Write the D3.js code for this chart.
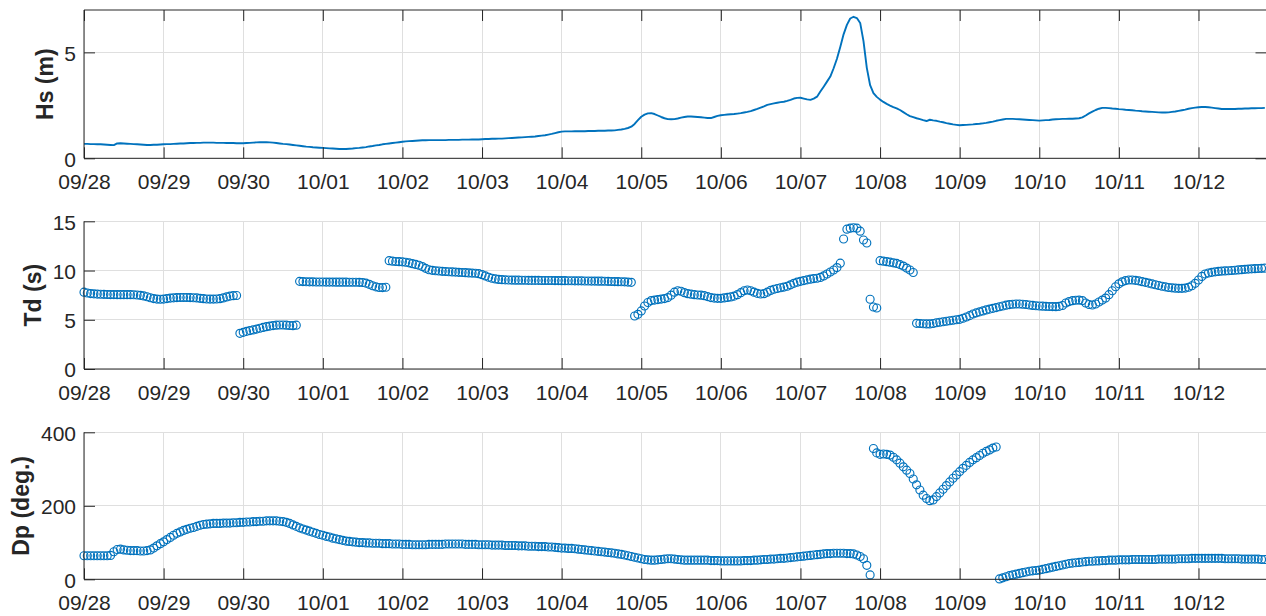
<!DOCTYPE html>
<html>
<head>
<meta charset="utf-8">
<script src="https://cdn.jsdelivr.net/npm/d3@7"></script>
<style>
  body { margin: 0; background: #fff; }
  svg { display: block; }
  text { font-family: "Liberation Sans", Arial, Helvetica, sans-serif; fill: #262626; }
</style>
</head>
<body>
<svg id="chart" width="1266" height="616"></svg>
<script>
// Hourly records starting 09/28 00:00, one row per day (last day ends at 20:00)
const startTime = Date.UTC(2019, 8, 28, 0, 0);

// Significant wave height Hs (m)
const hsValues = [
  [0.68,0.68,0.67,0.67,0.66,0.66,0.65,0.64,0.63,0.62,0.70,0.71,0.70,0.69,0.68,0.67,0.66,0.65,0.64,0.63,0.63,0.64,0.64,0.65],
  [0.66,0.67,0.67,0.68,0.69,0.70,0.70,0.71,0.72,0.72,0.73,0.73,0.74,0.74,0.74,0.74,0.73,0.73,0.73,0.72,0.72,0.72,0.71,0.71],
  [0.71,0.72,0.73,0.74,0.75,0.76,0.76,0.76,0.75,0.74,0.72,0.70,0.68,0.67,0.65,0.63,0.61,0.59,0.57,0.55,0.54,0.52,0.51,0.50],
  [0.49,0.48,0.47,0.46,0.45,0.44,0.44,0.44,0.45,0.46,0.48,0.49,0.51,0.53,0.56,0.58,0.61,0.63,0.66,0.68,0.70,0.72,0.74,0.76],
  [0.78,0.80,0.81,0.82,0.83,0.84,0.85,0.85,0.86,0.86,0.86,0.86,0.86,0.86,0.87,0.87,0.87,0.87,0.88,0.88,0.88,0.89,0.89,0.89],
  [0.90,0.91,0.91,0.92,0.92,0.93,0.93,0.94,0.95,0.96,0.97,0.98,0.99,1.00,1.01,1.02,1.03,1.05,1.07,1.09,1.12,1.15,1.19,1.23],
  [1.26,1.27,1.27,1.27,1.28,1.28,1.28,1.28,1.29,1.29,1.29,1.30,1.30,1.30,1.31,1.31,1.32,1.34,1.36,1.39,1.43,1.49,1.62,1.80],
  [1.96,2.06,2.12,2.13,2.09,2.02,1.95,1.89,1.85,1.84,1.85,1.88,1.92,1.95,1.97,1.97,1.96,1.95,1.94,1.92,1.90,1.90,1.95,2.00],
  [2.03,2.05,2.07,2.08,2.09,2.11,2.13,2.16,2.19,2.23,2.28,2.33,2.39,2.45,2.52,2.56,2.59,2.62,2.65,2.67,2.71,2.76,2.82,2.85],
  [2.86,2.82,2.78,2.76,2.82,2.91,3.15,3.38,3.62,3.86,4.25,4.70,5.25,5.85,6.30,6.60,6.68,6.62,6.39,5.53,4.27,3.45,3.08,2.90],
  [2.77,2.66,2.57,2.49,2.42,2.36,2.28,2.18,2.08,1.99,1.94,1.89,1.85,1.80,1.76,1.82,1.79,1.77,1.73,1.70,1.66,1.63,1.60,1.58],
  [1.56,1.57,1.58,1.59,1.60,1.62,1.63,1.65,1.67,1.70,1.73,1.77,1.80,1.83,1.86,1.86,1.86,1.85,1.84,1.83,1.82,1.81,1.80,1.79],
  [1.78,1.79,1.80,1.81,1.83,1.84,1.85,1.86,1.86,1.87,1.87,1.88,1.89,1.93,2.02,2.12,2.20,2.28,2.34,2.38,2.38,2.37,2.35,2.34],
  [2.32,2.31,2.29,2.28,2.27,2.25,2.24,2.22,2.21,2.20,2.19,2.18,2.17,2.16,2.16,2.17,2.19,2.21,2.24,2.27,2.30,2.34,2.37,2.39],
  [2.41,2.42,2.42,2.41,2.39,2.37,2.35,2.33,2.33,2.33,2.33,2.33,2.34,2.34,2.35,2.35,2.36,2.36,2.37,2.37,2.38]
];

// Peak period Td (s)
const tdValues = [
  [7.80,7.72,7.66,7.63,7.61,7.59,7.58,7.57,7.56,7.56,7.55,7.55,7.55,7.55,7.55,7.54,7.52,7.48,7.42,7.34,7.24,7.15,7.10,7.08],
  [7.10,7.15,7.20,7.23,7.25,7.26,7.26,7.26,7.25,7.24,7.22,7.18,7.14,7.11,7.10,7.10,7.11,7.14,7.22,7.32,7.40,7.45,7.46,3.62],
  [3.72,3.82,3.90,3.97,4.05,4.14,4.22,4.30,4.36,4.41,4.45,4.47,4.47,4.45,4.42,4.40,4.45,8.90,8.88,8.86,8.85,8.85,8.84,8.84],
  [8.84,8.83,8.83,8.83,8.82,8.82,8.82,8.82,8.81,8.81,8.81,8.80,8.78,8.72,8.60,8.45,8.34,8.28,8.27,8.30,11.00,10.95,10.92,10.90],
  [10.88,10.84,10.78,10.70,10.62,10.54,10.40,10.22,10.08,10.02,9.98,9.95,9.92,9.90,9.88,9.86,9.84,9.82,9.80,9.78,9.76,9.74,9.72,9.68],
  [9.58,9.45,9.32,9.22,9.15,9.10,9.07,9.05,9.04,9.03,9.02,9.02,9.01,9.01,9.00,9.00,9.00,9.00,8.99,8.99,8.99,8.99,8.98,8.98],
  [8.97,8.97,8.96,8.96,8.95,8.95,8.95,8.94,8.94,8.93,8.93,8.92,8.92,8.91,8.90,8.89,8.88,8.87,8.86,8.85,8.83,8.80,5.38,5.55],
  [5.90,6.40,6.75,6.95,7.00,7.05,7.10,7.15,7.25,7.50,7.80,7.95,7.90,7.75,7.65,7.60,7.55,7.52,7.50,7.45,7.35,7.25,7.20,7.18],
  [7.18,7.22,7.27,7.32,7.40,7.55,7.75,7.95,8.02,7.95,7.80,7.68,7.62,7.65,7.80,7.98,8.10,8.18,8.25,8.32,8.40,8.55,8.70,8.82],
  [8.90,8.98,9.05,9.12,9.18,9.22,9.30,9.45,9.65,9.85,10.05,10.30,10.75,13.20,14.20,14.30,14.35,14.30,14.00,13.10,12.80,7.08,6.30,6.20],
  [11.00,10.95,10.90,10.85,10.78,10.72,10.60,10.45,10.25,10.05,9.80,4.64,4.62,4.60,4.58,4.58,4.62,4.70,4.75,4.80,4.85,4.90,4.95,5.00],
  [5.04,5.15,5.28,5.42,5.59,5.70,5.80,5.90,6.00,6.08,6.16,6.24,6.32,6.40,6.48,6.54,6.58,6.60,6.60,6.58,6.55,6.50,6.46,6.42],
  [6.40,6.38,6.36,6.35,6.34,6.33,6.36,6.45,6.70,6.85,6.94,6.98,7.00,6.95,6.70,6.55,6.50,6.60,6.80,7.00,7.20,7.55,7.95,8.35],
  [8.65,8.85,8.98,9.04,9.04,9.00,8.95,8.87,8.80,8.72,8.64,8.56,8.48,8.40,8.34,8.28,8.24,8.21,8.19,8.19,8.22,8.30,8.45,8.70],
  [9.04,9.40,9.65,9.75,9.82,9.87,9.91,9.94,9.96,9.98,10.00,10.03,10.06,10.09,10.12,10.15,10.17,10.19,10.21,10.22,10.24]
];

// Peak direction Dp (deg.)
const dpValues = [
  [64,64,64,64,64,64,64,64,65,75,81,82,80,79,78,78,78,77,77,78,80,85,91,97],
  [102,108,114,120,125,129,133,136,139,141,144,147,149,150,151,152,152,152,153,153,153,154,154,155],
  [155,156,156,157,157,158,158,159,159,159,159,158,157,155,152,148,144,140,137,134,131,128,125,122],
  [120,117,115,112,110,108,106,104,103,102,101,100,100,99,99,98,98,98,97,97,97,96,96,96],
  [95,95,95,94,94,94,94,94,95,95,95,95,95,96,96,96,96,96,96,95,95,95,95,94],
  [94,94,94,93,93,93,93,92,92,92,92,91,91,91,90,90,90,89,89,89,88,88,87,86],
  [85,85,84,84,83,82,81,80,79,78,77,76,75,74,73,72,71,69,68,66,64,62,60,58],
  [56,54,53,52,52,53,54,55,56,56,55,54,53,52,52,52,52,52,52,52,52,51,51,51],
  [50,50,50,50,50,50,50,51,51,51,52,52,53,54,54,55,55,56,57,57,58,59,60,61],
  [62,63,64,65,66,67,68,69,70,70,71,71,71,71,70,70,69,66,62,56,38,12,356,344],
  [340,341,340,338,332,325,316,306,297,288,273,257,243,229,220,214,216,225,235,245,255,265,275,284],
  [293,302,310,318,325,331,337,343,348,352,357,360,1,4,7,10,12,14,16,18,20,22,23,24],
  [25,27,29,31,33,35,37,39,41,43,44,45,46,47,48,49,49,50,50,51,51,52,52,52],
  [53,53,53,53,54,54,54,54,54,54,54,54,55,55,55,55,55,55,56,56,56,56,57,57],
  [57,57,57,57,57,57,57,57,56,56,56,56,56,55,55,55,55,55,55,54,54]
];

// Axis tick labels
const dateTickLabels = ["09/28","09/29","09/30","10/01","10/02","10/03","10/04","10/05",
                        "10/06","10/07","10/08","10/09","10/10","10/11","10/12"];
const hsTicks = [0, 5];
const tdTicks = [0, 5, 10, 15];
const dpTicks = [0, 200, 400];

// ---- build hourly series ----
const HOUR = 3600e3, DAY = 24 * HOUR;
function toSeries(rows) {
  return rows.flat().map((v, i) => ({ t: new Date(startTime + i * HOUR), v }));
}
const hsSeries = toSeries(hsValues);
const tdSeries = toSeries(tdValues);
const dpSeries = toSeries(dpValues);

// ---- layout ----
const svg = d3.select("#chart");
const plotLeft = 84, plotRight = 1266.5;
const blue = "#0072BD", ink = "#262626", gridColor = "#dfdfdf";
const tickFont = 21, labelFont = 23, tickLen = 11;

const x = d3.scaleUtc()
  .domain([new Date(startTime), new Date(startTime + 14 * DAY + 20.5 * HOUR)])
  .range([plotLeft, plotRight]);
const dayTicks = dateTickLabels.map((_, i) => new Date(startTime + i * DAY));

const panels = [
  { name: "Hs (m)", top: 10, bottom: 158.3, yMax: 7, ticks: hsTicks, series: hsSeries, kind: "line", box: true },
  { name: "Td (s)", top: 221.3, bottom: 369, yMax: 15, ticks: tdTicks, series: tdSeries, kind: "marker", box: false },
  { name: "Dp (deg.)", top: 432.3, bottom: 579.3, yMax: 400, ticks: dpTicks, series: dpSeries, kind: "marker", box: false }
];

panels.forEach(p => {
  const y = d3.scaleLinear().domain([0, p.yMax]).range([p.bottom, p.top]);
  const g = svg.append("g");

  // grid
  const grid = g.append("g").attr("stroke", gridColor).attr("stroke-width", 1).attr("shape-rendering", "crispEdges");
  grid.selectAll("line.vx").data(dayTicks).join("line")
    .attr("x1", d => x(d)).attr("x2", d => x(d))
    .attr("y1", p.top).attr("y2", p.bottom);
  grid.selectAll("line.hy").data(p.ticks).join("line")
    .attr("x1", plotLeft).attr("x2", plotRight)
    .attr("y1", d => y(d)).attr("y2", d => y(d));

  // data
  if (p.kind === "line") {
    g.append("path").datum(p.series)
      .attr("fill", "none").attr("stroke", blue).attr("stroke-width", 1.9)
      .attr("stroke-linejoin", "round")
      .attr("d", d3.line().x(d => x(d.t)).y(d => y(d.v)));
  } else {
    g.append("g").selectAll("circle").data(p.series).join("circle")
      .attr("cx", d => x(d.t)).attr("cy", d => y(d.v)).attr("r", 4)
      .attr("fill", "none").attr("stroke", blue).attr("stroke-width", 1.15);
  }

  // bottom axis (ticks pointing inward)
  const xAxis = d3.axisBottom(x).tickValues(dayTicks)
    .tickFormat((d, i) => dateTickLabels[i])
    .tickSizeInner(-tickLen).tickSizeOuter(0).tickPadding(16);
  const gx = g.append("g").attr("transform", `translate(0,${p.bottom})`).call(xAxis);
  gx.selectAll("text").attr("font-size", tickFont).attr("fill", ink);

  // left axis
  const yAxis = d3.axisLeft(y).tickValues(p.ticks).tickFormat(d3.format("d"))
    .tickSizeInner(-tickLen).tickSizeOuter(0).tickPadding(8);
  const gy = g.append("g").attr("transform", `translate(${plotLeft},0)`).call(yAxis);
  gy.selectAll("text").attr("font-size", tickFont).attr("fill", ink).attr("dy", "0.38em");

  [gx, gy].forEach(a => {
    a.attr("font-family", null);
    a.select(".domain").attr("stroke", ink).attr("stroke-width", 1);
    a.selectAll(".tick line").attr("stroke", ink).attr("stroke-width", 1);
  });
  // domain lines should span exactly the plot area
  gx.select(".domain").attr("d", `M${plotLeft},0H${plotRight}`);
  gy.select(".domain").attr("d", `M0,${p.bottom}V${p.top}`);

  if (p.box) {
    const xTop = d3.axisTop(x).tickValues(dayTicks).tickFormat("")
      .tickSizeInner(-tickLen).tickSizeOuter(0);
    const gt = g.append("g").attr("transform", `translate(0,${p.top})`).call(xTop);
    const yRight = d3.axisRight(y).tickValues(p.ticks).tickFormat("")
      .tickSizeInner(-tickLen).tickSizeOuter(0);
    const gr = g.append("g").attr("transform", `translate(${plotRight},0)`).call(yRight);
    [gt, gr].forEach(a => {
      a.select(".domain").attr("stroke", ink).attr("stroke-width", 1);
      a.selectAll(".tick line").attr("stroke", ink).attr("stroke-width", 1);
    });
    gt.select(".domain").attr("d", `M${plotLeft},0H${plotRight}`);
    gr.select(".domain").attr("d", `M0,${p.bottom}V${p.top}`);
  }

  // y-axis title, placed left of the widest tick label
  let minLeft = Infinity;
  gy.selectAll("text").each(function () {
    const b = this.getBBox();
    minLeft = Math.min(minLeft, plotLeft + b.x);
  });
  const cx = minLeft - 11.7;
  const cy = (p.top + p.bottom) / 2;
  g.append("text")
    .attr("transform", `translate(${cx},${cy}) rotate(-90)`)
    .attr("text-anchor", "middle")
    .attr("font-size", labelFont).attr("font-weight", "bold").attr("fill", ink)
    .text(p.name);
});
</script>
</body>
</html>
